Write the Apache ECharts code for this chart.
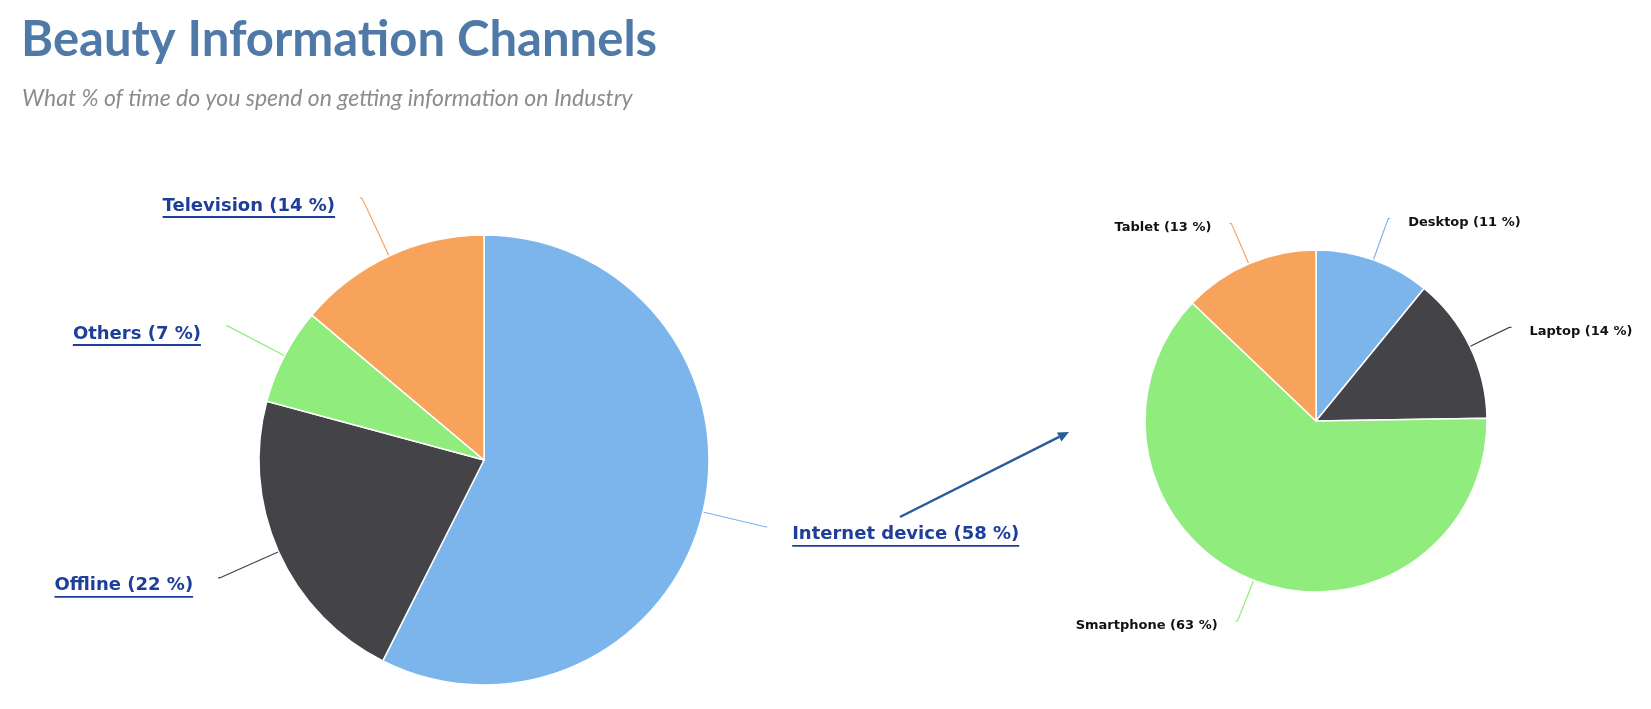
<!DOCTYPE html>
<html>
<head>
<meta charset="utf-8">
<script src="https://cdn.jsdelivr.net/npm/echarts@6/dist/echarts.min.js"></script>
<style>
html,body{margin:0;padding:0;background:#fff;}
#chart{width:1651px;height:709px;}
</style>
</head>
<body>
<div id="chart"></div>
<script>
// ---- data ----
const channelNames = ['Internet device', 'Offline', 'Others', 'Television'];
const channelValues = [58, 22, 7, 14];
const deviceNames = ['Desktop', 'Laptop', 'Smartphone', 'Tablet'];
const deviceValues = [11, 14, 63, 13];
const sliceColors = ['#7cb5ec', '#434348', '#90ed7d', '#f7a35c'];

const chart = echarts.init(document.getElementById('chart'));

const linkColor = '#1e3f99';
// label box: lineHeight 22 + padding bottom 2 = 24 ; underline 2px at the bottom
const boxH = 24, ulH = 2;
const ulStop = 1 - ulH / boxH;
const underline = new echarts.graphic.LinearGradient(0, 0, 0, 1, [
  {offset: 0, color: 'rgba(255,255,255,0)'},
  {offset: ulStop, color: 'rgba(255,255,255,0)'},
  {offset: ulStop, color: linkColor},
  {offset: 1, color: linkColor}
]);

function toData(names, values) {
  return names.map((n, i) => ({name: n, value: values[i], itemStyle: {color: sliceColors[i]}}));
}

// arrow (annotation) between the two pies
const arrowFrom = [900, 517];
const arrowTo = [1069, 432];
const adx = arrowTo[0] - arrowFrom[0], ady = arrowTo[1] - arrowFrom[1];
const alen = Math.sqrt(adx * adx + ady * ady);
const ux = adx / alen, uy = ady / alen;
const headL = 11, headW = 5;
const baseX = arrowTo[0] - ux * headL, baseY = arrowTo[1] - uy * headL;

const option = {
  animation: false,
  backgroundColor: '#ffffff',
  title: [
    {
      text: 'Beauty Information Channels',
      left: 21, top: 16, padding: 0,
      textStyle: {fontFamily: 'Lato', fontWeight: 'bold', fontSize: 49, color: '#4f7aa8'}
    },
    {
      text: 'What % of time do you spend on getting information on Industry',
      left: 22, top: 87, padding: 0,
      textStyle: {fontFamily: 'Lato', fontStyle: 'italic', fontWeight: 'normal', fontSize: 23, color: '#8c8c8c'}
    }
  ],
  series: [
    {
      type: 'pie',
      center: [484, 460],
      radius: 225,
      startAngle: 90,
      clockwise: true,
      avoidLabelOverlap: false,
      emphasis: {disabled: true},
      itemStyle: {borderColor: '#ffffff', borderWidth: 1.5},
      label: {
        show: true,
        formatter: '{b} ({c} %)',
        fontFamily: 'DejaVu Sans',
        fontSize: 18,
        fontWeight: 'bold',
        color: linkColor,
        lineHeight: 22,
        padding: [0, 0, 2, 0],
        backgroundColor: underline,
        distanceToLabelLine: 25
      },
      labelLayout: {dy: 8},
      labelLine: {
        show: true,
        length: 64,
        length2: 2,
        smooth: 0.3,
        lineStyle: {width: 1.2}
      },
      data: toData(channelNames, channelValues)
    },
    {
      type: 'pie',
      center: [1316, 421],
      radius: 171,
      startAngle: 90,
      clockwise: true,
      avoidLabelOverlap: false,
      emphasis: {disabled: true},
      itemStyle: {borderColor: '#ffffff', borderWidth: 1.5},
      label: {
        show: true,
        formatter: '{b} ({c} %)',
        fontFamily: 'DejaVu Sans',
        fontSize: 13,
        fontWeight: 'bold',
        color: '#111111',
        distanceToLabelLine: 18
      },
      labelLayout: {dy: 4},
      labelLine: {
        show: true,
        length: 44,
        length2: 2,
        smooth: 0.3,
        lineStyle: {width: 1.2}
      },
      data: toData(deviceNames, deviceValues)
    }
  ],
  graphic: [
    {
      type: 'line',
      shape: {x1: arrowFrom[0], y1: arrowFrom[1], x2: baseX, y2: baseY},
      style: {stroke: '#2a5b9b', lineWidth: 2.5}
    },
    {
      type: 'polygon',
      shape: {points: [
        [arrowTo[0], arrowTo[1]],
        [baseX - uy * headW, baseY + ux * headW],
        [baseX + uy * headW, baseY - ux * headW]
      ]},
      style: {fill: '#2a5b9b'}
    }
  ]
};

chart.setOption(option);
</script>
</body>
</html>
